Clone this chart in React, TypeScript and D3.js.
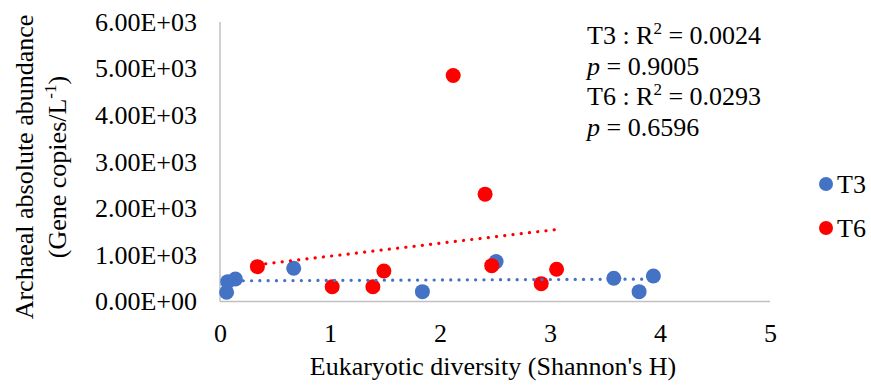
import React, { useEffect, useRef } from 'react';
import * as d3 from 'd3';

// Eukaryotic diversity (Shannon's H) vs archaeal abundance
const t3X = [0.06, 0.07, 0.14, 0.67, 1.84, 2.51, 3.58, 3.81, 3.94];
const t3Y = [198, 426, 484, 714, 211, 856, 499, 211, 548];
const t6X = [0.34, 1.02, 1.39, 1.49, 2.12, 2.41, 2.47, 2.92, 3.06];
const t6Y = [748, 318, 318, 656, 4850, 2305, 770, 383, 692];

const xTicks = [0, 1, 2, 3, 4, 5];
const yTicks = [0, 1000, 2000, 3000, 4000, 5000, 6000];
const yTickLabels = ['0.00E+00', '1.00E+03', '2.00E+03', '3.00E+03', '4.00E+03', '5.00E+03', '6.00E+03'];

const seriesNames = ['T3', 'T6'];
const seriesColors = ['#4472C4', '#FF0000'];
const statsR2 = ['0.0024', '0.0293'];
const statsP = ['0.9005', '0.6596'];

const FONT = '"Liberation Serif", "Times New Roman", serif';

// least squares line
const fit = (xs: number[], ys: number[]) => {
  const mx = d3.mean(xs)!;
  const my = d3.mean(ys)!;
  let sxy = 0, sxx = 0;
  xs.forEach((x, i) => { sxy += (x - mx) * (ys[i] - my); sxx += (x - mx) ** 2; });
  const b = sxy / sxx;
  return (x: number) => my + b * (x - mx);
};

const App = () => {
  const svgRef = useRef<SVGSVGElement>(null);

  useEffect(() => {
    const width = 871;
    const height = 389;
    const left = 220, right = 770, top = 22, bottom = 301.5;

    const x = d3.scaleLinear().domain([0, 5]).range([left, right]);
    const y = d3.scaleLinear().domain([0, 6000]).range([bottom, top]);

    const svg = d3.select(svgRef.current);
    svg.selectAll('*').remove();
    svg.attr('width', width).attr('height', height)
      .style('font-family', FONT);

    // axes (no tick marks, light grey lines)
    const yAxis = svg.append('g')
      .attr('transform', `translate(${left},0)`)
      .call(d3.axisLeft(y).tickValues(yTicks).tickSize(0).tickPadding(23)
        .tickFormat((d, i) => yTickLabels[i]));
    const xAxis = svg.append('g')
      .attr('transform', `translate(0,${bottom})`)
      .call(d3.axisBottom(x).tickValues(xTicks).tickSize(0).tickPadding(22)
        .tickFormat(d3.format('d')));
    [yAxis, xAxis].forEach(a => {
      a.select('.domain').attr('stroke', '#C0C0C0').attr('stroke-width', 1.5);
      a.selectAll('text').attr('font-size', 26).attr('font-family', FONT).attr('fill', '#000');
    });
    yAxis.select('.domain').attr('d', `M0,${top}V${bottom}`);
    xAxis.select('.domain').attr('d', `M${left},0H${right}`);

    const series = [
      { xs: t3X, ys: t3Y },
      { xs: t6X, ys: t6Y },
    ];

    // markers
    series.forEach((s, k) => {
      svg.append('g').selectAll('circle')
        .data(s.xs)
        .enter().append('circle')
        .attr('cx', d => x(d))
        .attr('cy', (d, i) => y(s.ys[i]))
        .attr('r', 7.5)
        .attr('fill', seriesColors[k]);
    });

    // dotted trendlines, on top of the markers
    series.forEach((s, k) => {
      const f = fit(s.xs, s.ys);
      const [x0, x1] = d3.extent(s.xs) as [number, number];
      svg.append('line')
        .attr('x1', x(x0)).attr('y1', y(f(x0)))
        .attr('x2', x(x1)).attr('y2', y(f(x1)))
        .attr('stroke', seriesColors[k])
        .attr('stroke-width', 3.2)
        .attr('stroke-linecap', 'round')
        .attr('stroke-dasharray', '0.1 8.2');
    });

    // axis titles
    svg.append('text')
      .attr('x', (left + right) / 2 - 2).attr('y', 375)
      .attr('text-anchor', 'middle').attr('font-size', 26)
      .text("Eukaryotic diversity (Shannon's H)");

    const yt = svg.append('g').attr('transform', 'translate(24,167) rotate(-90)');
    yt.append('text')
      .attr('y', 9).attr('text-anchor', 'middle').attr('font-size', 26)
      .text('Archaeal absolute abundance');
    const yt2 = yt.append('text')
      .attr('y', 42).attr('text-anchor', 'middle').attr('font-size', 26);
    yt2.append('tspan').text('(Gene copies/L');
    yt2.append('tspan').attr('dy', -10).attr('font-size', 17).text('-1');
    yt2.append('tspan').attr('dy', 10).text(')');

    // regression stats
    const stats = svg.append('g').attr('font-size', 26);
    seriesNames.forEach((name, k) => {
      const t1 = stats.append('text').attr('x', 587).attr('y', 44 + k * 61);
      t1.append('tspan').text(`${name} : R`);
      t1.append('tspan').attr('dy', -10).attr('font-size', 17).text('2');
      t1.append('tspan').attr('dy', 10).text(` = ${statsR2[k]}`);
      const t2 = stats.append('text').attr('x', 587).attr('y', 75 + k * 61);
      t2.append('tspan').attr('font-style', 'italic').text('p');
      t2.append('tspan').text(` = ${statsP[k]}`);
    });

    // legend
    const lg = svg.append('g');
    seriesNames.forEach((name, k) => {
      const cy = 184 + k * 44;
      lg.append('circle').attr('cx', 826).attr('cy', cy).attr('r', 7).attr('fill', seriesColors[k]);
      lg.append('text').attr('x', 837).attr('y', cy).attr('dy', '0.35em')
        .attr('font-size', 26).text(name);
    });
  }, []);

  return (
    <svg ref={svgRef} style={{ position: 'absolute', left: 0, top: 0 }}></svg>
  );
};

export default App;
